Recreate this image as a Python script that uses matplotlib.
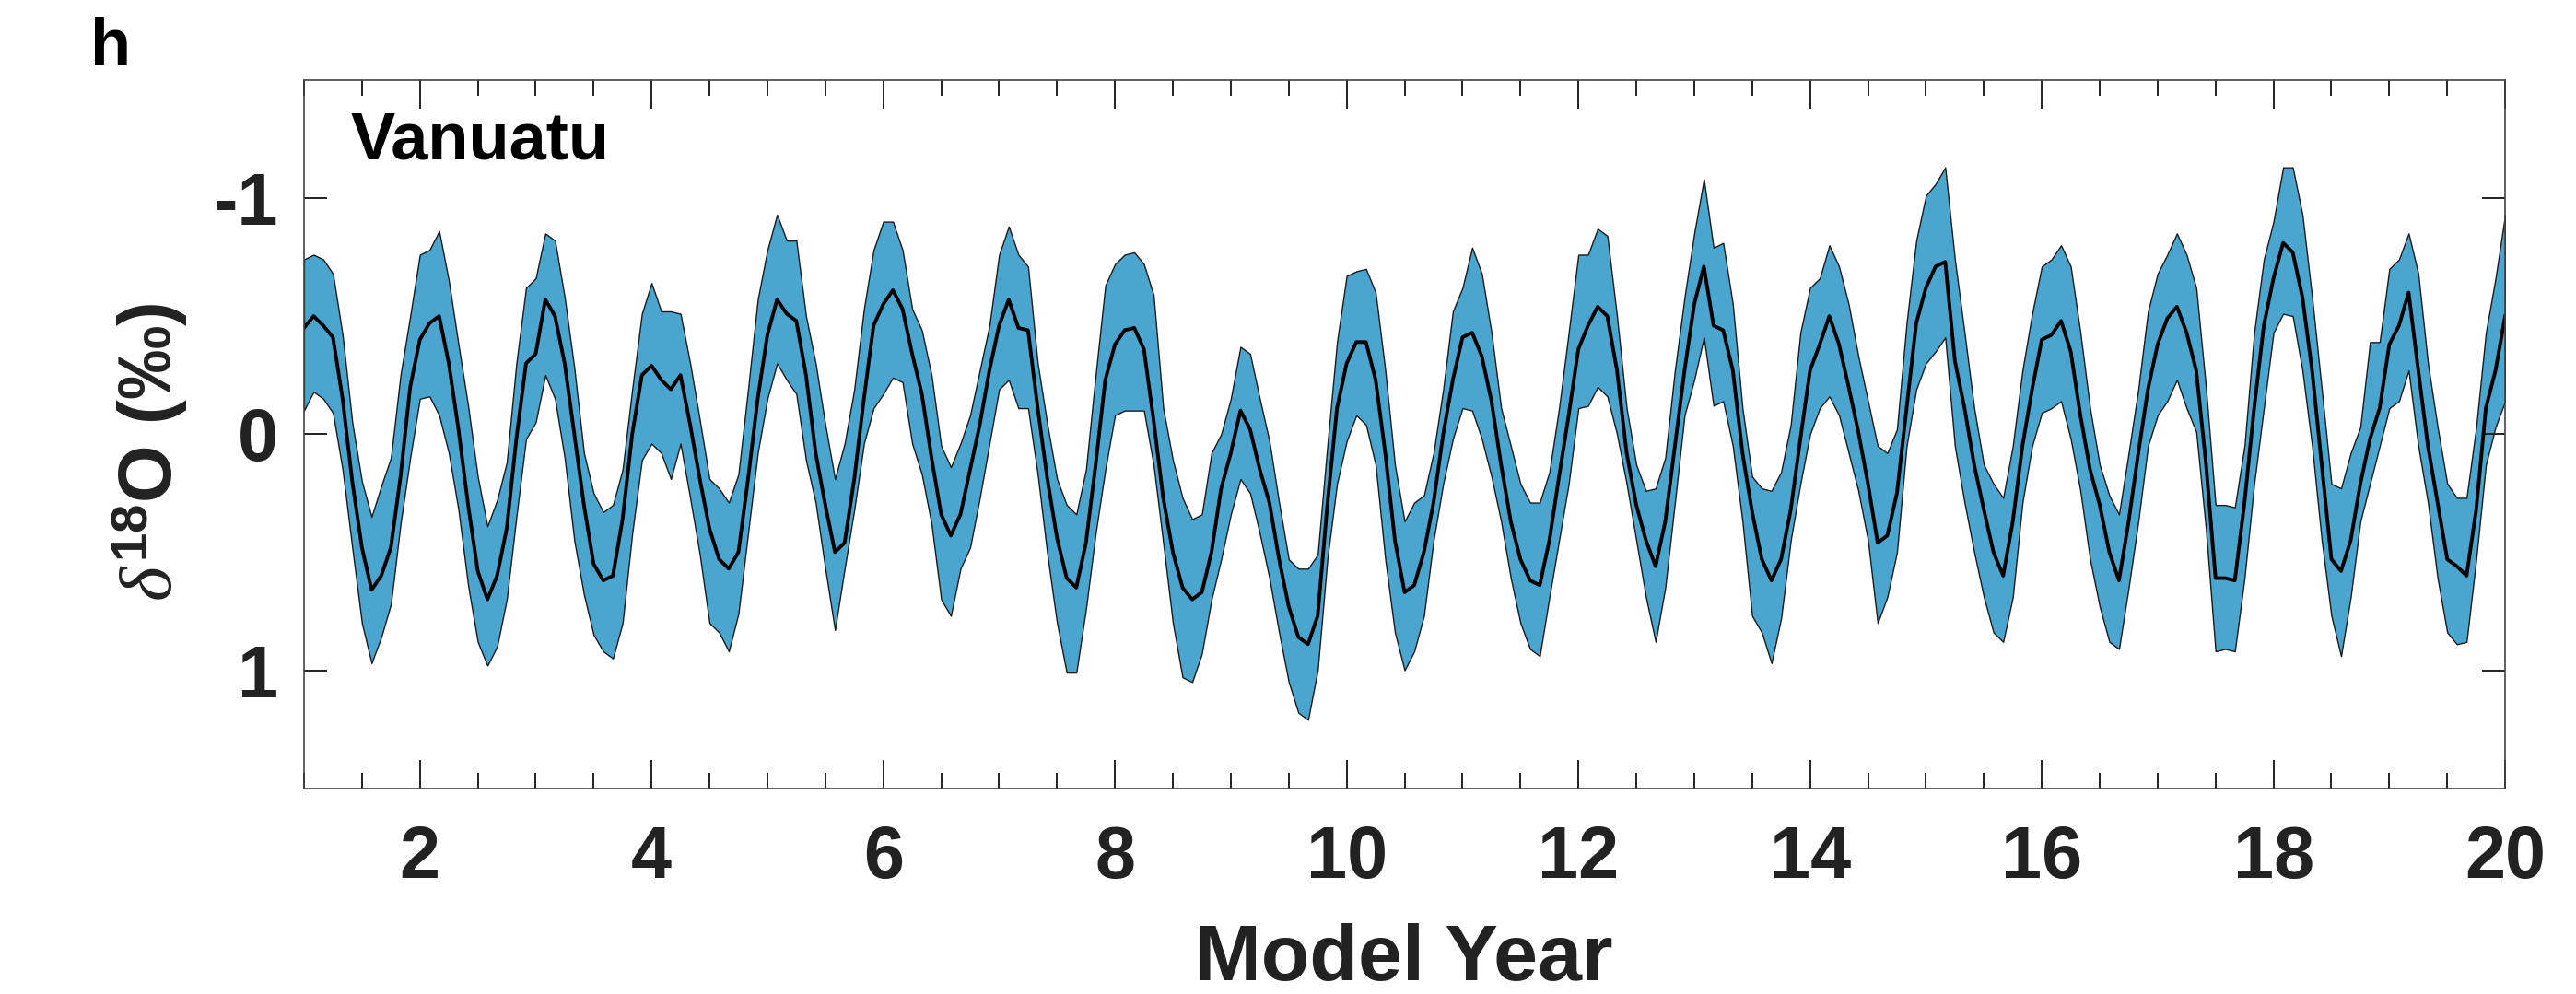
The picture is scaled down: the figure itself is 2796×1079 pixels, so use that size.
import numpy as np
import matplotlib
matplotlib.use('Agg')
import matplotlib.pyplot as plt
from matplotlib.ticker import MultipleLocator

plt.rcParams['font.family'] = ['Liberation Sans', 'DejaVu Sans']
plt.rcParams['mathtext.fontset'] = 'custom'
plt.rcParams['mathtext.rm'] = 'Liberation Sans'
plt.rcParams['mathtext.it'] = 'Liberation Serif:italic'
plt.rcParams['mathtext.bf'] = 'Liberation Sans:bold'

# monthly values, model years 1..20 (one row = one year)
mean_d18o = [
    -0.45, -0.50, -0.46, -0.41, -0.15, 0.20, 0.48, 0.66, 0.60, 0.48, 0.18, -0.20,
    -0.40, -0.47, -0.50, -0.30, -0.02, 0.30, 0.58, 0.70, 0.60, 0.40, 0.02, -0.30,
    -0.34, -0.57, -0.50, -0.30, 0.00, 0.30, 0.55, 0.62, 0.60, 0.36, 0.00, -0.25,
    -0.29, -0.23, -0.19, -0.25, -0.04, 0.19, 0.40, 0.53, 0.57, 0.50, 0.19, -0.15,
    -0.42, -0.57, -0.51, -0.48, -0.25, 0.08, 0.30, 0.50, 0.46, 0.19, -0.15, -0.46,
    -0.55, -0.61, -0.53, -0.34, -0.17, 0.10, 0.34, 0.43, 0.34, 0.15, -0.04, -0.27,
    -0.46, -0.57, -0.45, -0.44, -0.11, 0.19, 0.44, 0.61, 0.65, 0.46, 0.13, -0.23,
    -0.38, -0.44, -0.45, -0.36, -0.06, 0.27, 0.50, 0.65, 0.70, 0.67, 0.50, 0.23,
    0.08, -0.10, -0.02, 0.15, 0.29, 0.53, 0.73, 0.86, 0.89, 0.77, 0.30, -0.11,
    -0.30, -0.39, -0.39, -0.23, 0.08, 0.45, 0.67, 0.64, 0.50, 0.29, 0.00, -0.23,
    -0.41, -0.43, -0.33, -0.14, 0.13, 0.37, 0.53, 0.62, 0.64, 0.45, 0.18, -0.08,
    -0.36, -0.46, -0.54, -0.50, -0.27, 0.08, 0.30, 0.45, 0.56, 0.37, 0.05, -0.27,
    -0.55, -0.71, -0.46, -0.44, -0.27, 0.08, 0.33, 0.53, 0.62, 0.53, 0.32, 0.02,
    -0.27, -0.38, -0.50, -0.38, -0.20, -0.01, 0.21, 0.46, 0.43, 0.25, -0.11, -0.47,
    -0.62, -0.71, -0.73, -0.31, -0.11, 0.13, 0.32, 0.50, 0.60, 0.37, 0.05, -0.19,
    -0.40, -0.42, -0.48, -0.35, -0.08, 0.15, 0.30, 0.50, 0.62, 0.37, 0.08, -0.19,
    -0.38, -0.49, -0.54, -0.43, -0.27, 0.12, 0.61, 0.61, 0.62, 0.29, -0.11, -0.46,
    -0.66, -0.81, -0.77, -0.58, -0.27, 0.13, 0.53, 0.58, 0.45, 0.21, 0.02, -0.11,
    -0.38, -0.46, -0.60, -0.27, 0.05, 0.29, 0.53, 0.56, 0.60, 0.32, -0.11, -0.27,
    -0.50,
]

# upper edge of the shaded range (most negative values)
band_low = [
    -0.74, -0.76, -0.74, -0.68, -0.42, -0.05, 0.20, 0.35, 0.22, 0.10, -0.25, -0.50,
    -0.76, -0.78, -0.86, -0.65, -0.38, -0.12, 0.18, 0.39, 0.28, 0.12, -0.30, -0.62,
    -0.66, -0.85, -0.82, -0.58, -0.28, 0.08, 0.25, 0.33, 0.30, 0.15, -0.19, -0.51,
    -0.64, -0.52, -0.52, -0.51, -0.30, -0.06, 0.19, 0.23, 0.29, 0.17, -0.19, -0.57,
    -0.78, -0.93, -0.82, -0.82, -0.50, -0.30, -0.04, 0.19, 0.04, -0.19, -0.53, -0.78,
    -0.90, -0.90, -0.78, -0.53, -0.44, -0.25, 0.05, 0.14, 0.04, -0.08, -0.27, -0.46,
    -0.76, -0.88, -0.76, -0.71, -0.30, -0.04, 0.19, 0.30, 0.34, 0.15, -0.25, -0.63,
    -0.72, -0.76, -0.77, -0.72, -0.59, -0.11, 0.11, 0.27, 0.36, 0.34, 0.08, 0.00,
    -0.15, -0.37, -0.34, -0.15, 0.03, 0.29, 0.53, 0.57, 0.57, 0.51, 0.05, -0.39,
    -0.67, -0.69, -0.70, -0.60, -0.27, 0.13, 0.37, 0.29, 0.26, 0.08, -0.19, -0.52,
    -0.62, -0.79, -0.68, -0.43, -0.11, 0.05, 0.21, 0.29, 0.29, 0.16, -0.11, -0.43,
    -0.76, -0.76, -0.87, -0.84, -0.50, -0.11, 0.13, 0.24, 0.23, 0.10, -0.27, -0.58,
    -0.85, -1.08, -0.79, -0.81, -0.55, -0.11, 0.18, 0.23, 0.24, 0.16, -0.04, -0.43,
    -0.62, -0.66, -0.80, -0.71, -0.55, -0.33, -0.14, 0.05, 0.08, -0.02, -0.47, -0.82,
    -1.01, -1.06, -1.13, -0.74, -0.43, -0.11, 0.13, 0.21, 0.27, 0.05, -0.27, -0.51,
    -0.71, -0.74, -0.80, -0.71, -0.43, -0.11, 0.13, 0.26, 0.34, 0.08, -0.19, -0.52,
    -0.68, -0.76, -0.85, -0.76, -0.62, -0.20, 0.30, 0.30, 0.31, 0.05, -0.43, -0.74,
    -0.90, -1.13, -1.13, -0.93, -0.58, -0.19, 0.21, 0.23, 0.08, -0.03, -0.39, -0.39,
    -0.70, -0.74, -0.85, -0.68, -0.30, -0.03, 0.21, 0.27, 0.27, -0.03, -0.43, -0.66,
    -0.93,
]

# lower edge of the shaded range (most positive values)
band_high = [
    -0.10, -0.18, -0.15, -0.09, 0.15, 0.48, 0.80, 0.97, 0.86, 0.72, 0.38, 0.10,
    -0.15, -0.16, -0.08, 0.08, 0.32, 0.64, 0.88, 0.98, 0.90, 0.70, 0.35, 0.02,
    -0.05, -0.25, -0.15, 0.10, 0.45, 0.68, 0.85, 0.92, 0.95, 0.80, 0.42, 0.11,
    0.04, 0.08, 0.19, 0.04, 0.27, 0.51, 0.80, 0.84, 0.92, 0.76, 0.42, 0.08,
    -0.15, -0.30, -0.23, -0.17, 0.11, 0.29, 0.57, 0.83, 0.57, 0.32, 0.04, -0.11,
    -0.17, -0.24, -0.22, 0.04, 0.17, 0.38, 0.70, 0.77, 0.57, 0.48, 0.27, 0.04,
    -0.19, -0.23, -0.11, -0.11, 0.17, 0.51, 0.80, 1.01, 1.01, 0.74, 0.42, 0.15,
    -0.08, -0.10, -0.10, -0.10, 0.13, 0.46, 0.80, 1.03, 1.05, 0.93, 0.70, 0.53,
    0.34, 0.19, 0.25, 0.42, 0.61, 0.84, 1.05, 1.18, 1.21, 1.00, 0.53, 0.21,
    0.03, -0.08, -0.04, 0.13, 0.53, 0.84, 1.00, 0.92, 0.77, 0.45, 0.21, 0.02,
    -0.11, -0.10, 0.02, 0.18, 0.37, 0.61, 0.80, 0.91, 0.94, 0.69, 0.45, 0.21,
    -0.11, -0.12, -0.20, -0.16, 0.00, 0.21, 0.45, 0.69, 0.88, 0.65, 0.29, -0.08,
    -0.23, -0.41, -0.12, -0.14, 0.05, 0.37, 0.77, 0.84, 0.97, 0.78, 0.45, 0.21,
    0.00, -0.11, -0.16, -0.08, 0.08, 0.24, 0.45, 0.80, 0.69, 0.50, 0.05, -0.19,
    -0.30, -0.35, -0.41, 0.05, 0.29, 0.50, 0.69, 0.84, 0.88, 0.69, 0.29, 0.05,
    -0.09, -0.11, -0.14, 0.02, 0.24, 0.53, 0.73, 0.88, 0.91, 0.65, 0.37, 0.05,
    -0.08, -0.14, -0.23, -0.11, -0.01, 0.40, 0.92, 0.91, 0.92, 0.61, 0.21, -0.11,
    -0.43, -0.51, -0.50, -0.27, 0.05, 0.45, 0.77, 0.94, 0.69, 0.37, 0.21, 0.05,
    -0.11, -0.14, -0.27, 0.05, 0.29, 0.61, 0.84, 0.89, 0.88, 0.53, 0.13, -0.03,
    -0.14,
]

x_ticks = [2, 4, 6, 8, 10, 12, 14, 16, 18, 20]
y_ticks = [-1, 0, 1]

years = 1 + np.arange(len(mean_d18o)) / 12.0

fig = plt.figure(figsize=(27.96, 10.79), dpi=100)
ax = fig.add_axes([0.118, 0.207, 0.8545, 0.7125])

ax.fill_between(years, band_low, band_high, facecolor='#4AA6CE',
                edgecolor='#1a1a1a', linewidth=1.0)
ax.plot(years, mean_d18o, color='black', linewidth=2.8)

ax.set_xlim(1, 20)
ax.set_ylim(1.5, -1.5)
ax.set_xticks(x_ticks)
ax.set_yticks(y_ticks)
ax.set_yticklabels(['-1', '0', '1'])
ax.xaxis.set_minor_locator(MultipleLocator(0.5))

ax.tick_params(axis='both', which='both', direction='in', top=True, right=True,
               colors='#222222', width=1.4)
ax.tick_params(axis='x', which='major', length=22, pad=28, labelsize=57)
ax.tick_params(axis='x', which='minor', length=12)
ax.tick_params(axis='y', which='major', length=18, pad=20, labelsize=57)
for lab in ax.get_xticklabels() + ax.get_yticklabels():
    lab.set_fontweight('bold')
    lab.set_color('#222222')
for sp in ax.spines.values():
    sp.set_linewidth(1.2)
    sp.set_color('#444444')

ax.text(0.021, 0.888, 'Vanuatu', transform=ax.transAxes, fontsize=52,
        fontweight='bold', va='baseline', ha='left')

fig.text(0.545, 0.014, 'Model Year', fontsize=62, fontweight='bold',
         color='#222222', ha='center', va='baseline')
fig.text(0.058, 0.545, r'$\delta^{\mathbf{18}}$O (‰)', fontsize=58, fontweight='bold',
         color='#222222', rotation=90, ha='center', va='center')
fig.text(0.035, 0.934, 'h', fontsize=52, fontweight='bold', va='baseline', ha='left')

fig.savefig('out.png', dpi=100)
